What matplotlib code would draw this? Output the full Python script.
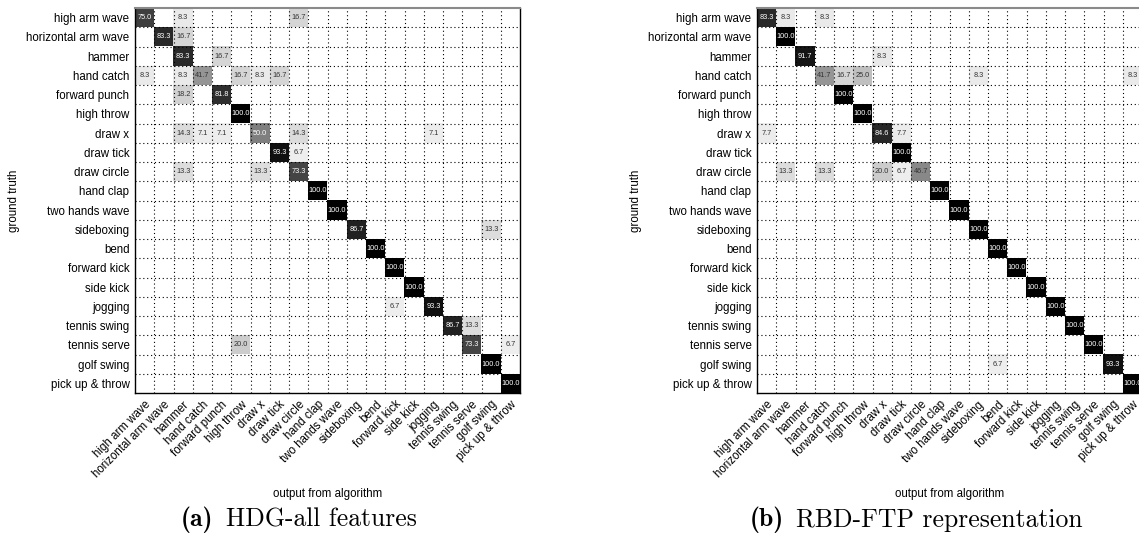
import matplotlib
matplotlib.use('Agg')
import matplotlib.pyplot as plt
import numpy as np

plt.rcParams['font.family'] = ['Liberation Sans', 'DejaVu Sans']

labels = ['high arm wave', 'horizontal arm wave', 'hammer', 'hand catch', 'forward punch',
          'high throw', 'draw x', 'draw tick', 'draw circle', 'hand clap',
          'two hands wave', 'sideboxing', 'bend', 'forward kick', 'side kick',
          'jogging', 'tennis swing', 'tennis serve', 'golf swing', 'pick up & throw']

# non-zero cells: (row, col, percent)
cells_a = [(0, 0, 75.0), (0, 2, 8.3), (0, 8, 16.7),
           (1, 1, 83.3), (1, 2, 16.7),
           (2, 2, 83.3), (2, 4, 16.7),
           (3, 0, 8.3), (3, 2, 8.3), (3, 3, 41.7), (3, 5, 16.7), (3, 6, 8.3), (3, 7, 16.7),
           (4, 2, 18.2), (4, 4, 81.8),
           (5, 5, 100.0),
           (6, 2, 14.3), (6, 3, 7.1), (6, 4, 7.1), (6, 6, 50.0), (6, 8, 14.3), (6, 15, 7.1),
           (7, 7, 93.3), (7, 8, 6.7),
           (8, 2, 13.3), (8, 6, 13.3), (8, 8, 73.3),
           (9, 9, 100.0), (10, 10, 100.0),
           (11, 11, 86.7), (11, 18, 13.3),
           (12, 12, 100.0), (13, 13, 100.0), (14, 14, 100.0),
           (15, 13, 6.7), (15, 15, 93.3),
           (16, 16, 86.7), (16, 17, 13.3),
           (17, 5, 20.0), (17, 17, 73.3), (17, 19, 6.7),
           (18, 18, 100.0), (19, 19, 100.0)]

cells_b = [(0, 0, 83.3), (0, 1, 8.3), (0, 3, 8.3),
           (1, 1, 100.0),
           (2, 2, 91.7), (2, 6, 8.3),
           (3, 3, 41.7), (3, 4, 16.7), (3, 5, 25.0), (3, 11, 8.3), (3, 19, 8.3),
           (4, 4, 100.0), (5, 5, 100.0),
           (6, 0, 7.7), (6, 6, 84.6), (6, 7, 7.7),
           (7, 7, 100.0),
           (8, 1, 13.3), (8, 3, 13.3), (8, 6, 20.0), (8, 7, 6.7), (8, 8, 46.7),
           (9, 9, 100.0), (10, 10, 100.0), (11, 11, 100.0), (12, 12, 100.0),
           (13, 13, 100.0), (14, 14, 100.0), (15, 15, 100.0), (16, 16, 100.0),
           (17, 17, 100.0),
           (18, 12, 6.7), (18, 18, 93.3),
           (19, 19, 100.0)]

W, H = 1139, 544
fig = plt.figure(figsize=(W / 100, H / 100), dpi=100)
renderer = fig.canvas.get_renderer()


def draw(cells, x0, caption_tag, caption_text, cap_x):
    n = len(labels)
    m = np.zeros((n, n))
    for r, c, v in cells:
        m[r, c] = v
    ax = fig.add_axes([x0 / W, 1 - 393 / H, 385 / W, 385 / H])
    ax.imshow(m, cmap='gray_r', vmin=0, vmax=100, aspect='auto', interpolation='nearest')
    for r, c, v in cells:
        ax.text(c, r, '%.1f' % v, ha='center', va='center', fontsize=5.3,
                color='white' if v >= 50 else '#333333')
    for k in range(1, n):
        ax.axhline(k - 0.5, color='black', lw=0.8, ls=(0, (1, 2.5)), zorder=3)
        ax.axvline(k - 0.5, color='black', lw=0.8, ls=(0, (1, 2.5)), zorder=3)
    ax.set_xticks(range(n))
    ax.set_yticks(range(n))
    ax.set_xticklabels(labels, rotation=45, ha='right', rotation_mode='anchor', fontsize=8.3)
    ax.set_yticklabels(labels, fontsize=8.3)
    ax.tick_params(length=0, pad=4)
    ax.spines['top'].set_color('#8a8a8a')
    ax.spines['top'].set_linewidth(1.5)
    for s in ['left', 'right', 'bottom']:
        ax.spines[s].set_linewidth(1.0)
    ax.set_xlabel('output from algorithm', fontsize=8.3)
    ax.xaxis.set_label_coords(0.5, -0.262)
    ax.xaxis.label.set_va('center')
    ax.set_ylabel('ground truth', fontsize=8.3)
    ax.yaxis.set_label_coords(-0.315, 0.5)
    ax.yaxis.label.set_va('center')

    # caption: bold tag followed by roman text
    y = 1 - 520 / H
    tag = fig.text(cap_x / W, y, caption_tag, ha='left', va='center',
                   family='cmb10', fontsize=18.5)
    tw = tag.get_window_extent(renderer).width
    fig.text((cap_x + tw + 12) / W, y, caption_text, ha='left', va='center',
             family='cmr10', fontsize=18.5)


draw(cells_a, 135, '(a)', 'HDG-all features', 181)
draw(cells_b, 757, '(b)', 'RBD-FTP representation', 750)

fig.savefig('out.png', dpi=100)
